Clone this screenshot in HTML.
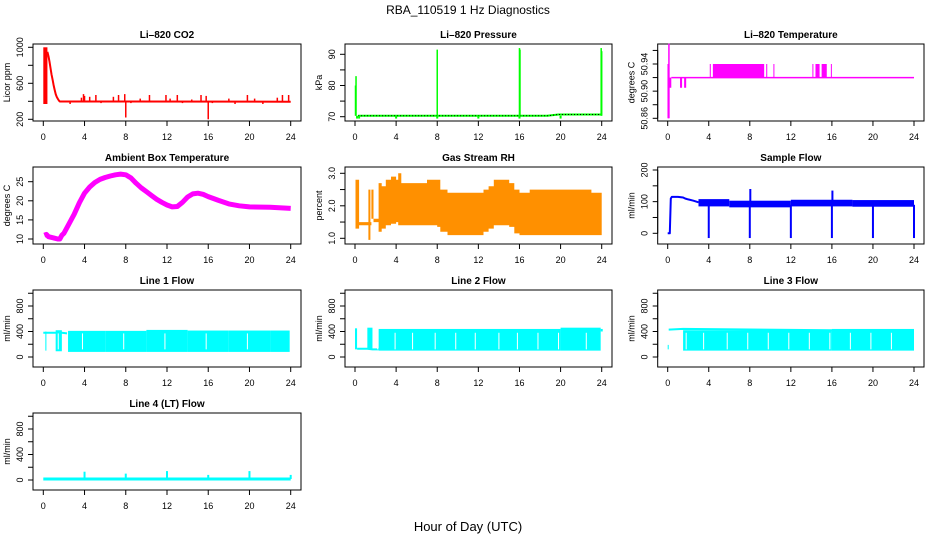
<!DOCTYPE html>
<html><head><meta charset="utf-8"><style>
html,body{margin:0;padding:0;background:#fff}
svg{display:block;font-family:"Liberation Sans",sans-serif}
</style></head><body>
<svg id="chart" width="936" height="540" viewBox="0 0 936 540">
<text x="468" y="14" text-anchor="middle" font-size="12">RBA_110519  1 Hz Diagnostics</text>
<text x="468" y="531" text-anchor="middle" font-size="13">Hour of Day (UTC)</text>
</svg>
<script>
// ---- data ----
const xTickValues = [0,4,8,12,16,20,24];
const co2Ticks = [200,400,600,800,1000];
const co2Labels = [200,600,1000];
const co2BandStart=[0]; const co2BandEnd=[0.4]; const co2BandLow=[370]; const co2BandHigh=[1000];
const co2Hours = [0.4,0.5,0.6,0.7,0.8,0.9,1.0,1.1,1.2,1.3,1.4,1.5,1.6,24];
const co2Values = [950,900,840,770,700,640,580,530,480,450,430,410,398,396];
const co2SpikeHours = [2.6,3.7,3.9,4.0,4.5,5.1,5.6,6.8,7.3,7.9,8.0,8.5,9.4,10.3,11.9,12.3,13.0,13.5,14.4,15.3,15.8,16.0,16.4,18.0,18.6,19.8,20.5,21.3,22.7,23.2,23.8];
const co2SpikeValues = [370,440,480,460,450,470,380,450,470,480,220,380,430,470,470,430,470,380,420,470,460,200,380,430,370,470,430,370,440,470,470];
const presTicks=[70,75,80,85,90]; const presLabels=[70,80,90];
const presHours=[0.3,18.7,19.8,24]; const presValues=[70.3,70.3,70.7,70.7];
const presSpikeHours=[0.05,0.1,8,16,16.05,23.95,24];
const presSpikeValues=[80,83,91.5,92,91.5,92,91];
const presDipHours=[0.2,0.4,4,8,12,16,20];
const presDipValues=[69.4,69.4,69.4,69.4,69.4,69.4,69.4];
const ltTicks=[50.86,50.88,50.90,50.92,50.94,50.96]; const ltLabels=["50.86","50.90","50.94"];
const ltHours=[0.35,24]; const ltValues=[50.92,50.92];
const ltSpikeHours=[0.05,0.12]; const ltSpikeLow=[50.86,50.86]; const ltSpikeHigh=[50.94,50.97];
const ltBandStart=[0.15,1.2,1.6,4.1,4.4,9.6,10.3,14.1,14.4,15.0,15.9];
const ltBandEnd  =[0.35,1.4,1.8,4.2,9.4,9.7,10.35,14.15,14.8,15.5,15.95];
const ltBandLow  =[50.905,50.905,50.905,50.92,50.92,50.92,50.92,50.92,50.92,50.92,50.92];
const ltBandHigh =[50.92,50.92,50.92,50.94,50.94,50.94,50.94,50.94,50.94,50.94,50.94];
const ambTicks=[10,15,20,25]; const ambLabels=[10,15,20,25];
const ambHours=[0.1,0.3,0.5,1.0,1.4,1.6,1.8,2.0,2.5,3.0,3.5,4.0,4.5,5.0,5.5,6.0,6.5,7.0,7.5,8.0,8.5,9.0,9.5,10,10.5,11,11.5,12,12.5,13,13.5,14,14.5,15,15.5,16,16.5,17,18,19,20,22,24];
const ambValues=[11,11.2,10.6,10.3,10,10,11,11.5,14,16.5,19.5,22,23.6,24.8,25.6,26.1,26.5,26.8,27,26.8,26,24.6,23.4,22.4,21.4,20.4,19.6,18.9,18.4,18.5,19.6,21,21.8,22,21.7,21.1,20.6,20.1,19.2,18.7,18.4,18.3,18.0];
const rhTicks=[1.0,1.5,2.0,2.5,3.0]; const rhLabels=["1.0","2.0","3.0"];
const rhHours=[0.05,0.4,1.3,1.5,1.6,1.8,2.3,2.6,3,3.5,4,4.2,4.5,5,6,7,8,8.3,9,10,11,12,12.5,13,13.5,14,14.5,15,15.5,16,17,18,19,20,21,22,23,24];
const rhLow=[1.3,1.4,0.95,1.4,1.6,1.5,1.2,1.3,1.4,1.45,1.5,1.4,1.4,1.4,1.4,1.4,1.35,1.2,1.1,1.1,1.1,1.1,1.2,1.3,1.4,1.4,1.4,1.35,1.15,1.1,1.1,1.1,1.1,1.1,1.1,1.1,1.1,1.1];
const rhHigh=[2.8,1.5,2.5,1.5,2.5,1.6,2.7,2.6,2.8,2.9,2.8,3.0,2.7,2.7,2.7,2.8,2.8,2.5,2.4,2.4,2.4,2.4,2.5,2.6,2.8,2.8,2.8,2.7,2.5,2.4,2.5,2.5,2.5,2.5,2.5,2.5,2.4,2.4];
const sfTicks=[0,50,100,150,200]; const sfLabels=[0,100,200];
const sfHours=[0,0.2,0.3,0.4,1.0,1.5,1.7,2.0,2.5,3.0];
const sfValues=[0,0,110,115,115,113,110,107,103,98];
const sfBandStart=[3,6,12,18]; const sfBandEnd=[6,12,18,24]; const sfBandLow=[85,82,85,84]; const sfBandHigh=[108,103,106,105];
const sfSpikeHours=[4,8,8.05,12,16,16.05,20,24];
const sfSpikeLow=[-15,-15,90,-15,-15,90,-15,-15];
const sfSpikeHigh=[90,90,140,90,90,135,90,90];
const flowTicks=[0,200,400,600,800,1000]; const flowLabels=[0,400,800];
const l1Hours=[0,1.2,1.5,1.8,2.3]; const l1Values=[380,380,380,380,370];
const l1BandStart=[0.2,1.2,2.4,6,10,14,18,22]; const l1BandEnd=[0.3,1.8,6,10,14,18,22,23.9];
const l1BandLow=[100,90,80,80,80,80,80,80]; const l1BandHigh=[400,420,410,410,425,415,415,415];
const l1GapHours=[1.45,3.8,7.8,11.8,15.8,19.8];
const l2Hours=[0.2,1.2,1.7,2.3]; const l2Values=[130,130,120,120];
const l2BandStart=[0,1.2,2.3,20,23.9]; const l2BandEnd=[0.2,1.7,20,23.9,24.1];
const l2BandLow=[120,130,100,100,400]; const l2BandHigh=[450,460,440,460,440];
const l2GapHours=[2.2,3.9,5.6,7.8,9.8,11.7,14,15.8,17.8,19.8,22.5];
const l3Hours=[0.1,1.5,24]; const l3Values=[430,440,410];
const l3BandStart=[0,1.5,16]; const l3BandEnd=[0.1,16,24];
const l3BandLow=[120,100,100]; const l3BandHigh=[190,420,440];
const l3GapHours=[1.8,3.5,5.8,7.8,9.8,11.8,13.8,15.8,17.8,19.8,21.8];
const l4Hours=[0,24]; const l4Values=[15,15];
const l4SpikeHours=[4,8,12,16,20,24]; const l4SpikeValues=[130,100,140,80,140,80];

// ---- layout ----
const colBox=[[33,301,43.3,290.7],[345,612,355,601.7],[657.7,924,667.7,914]];
const NS='http://www.w3.org/2000/svg';
const svg=document.getElementById('chart');
function el(tag,attrs,parent){const e=document.createElementNS(NS,tag);for(const k in attrs)e.setAttribute(k,attrs[k]);(parent||svg).appendChild(e);return e;}

function panel(name,col,row,title,ylab,cal,ticks,labels){
  const [L,R,x0,x24]=colBox[col]; const T=44+123*row, B=T+77;
  const g=el('g',{});
  
  
  const X=h=>x0+h*(x24-x0)/24;
  const Y=v=>T+cal[1]+(v-cal[0])*(cal[3]-cal[1])/(cal[2]-cal[0]);
  const t=el('text',{x:(L+R)/2,y:T-6,'text-anchor':'middle','font-size':10,'font-weight':'bold'},g);t.textContent=title;
  
  
  const box=el('rect',{x:L,y:T,width:R-L,height:B-T,fill:'none',stroke:'#000','stroke-width':1},g);
  
  
  const xa=el('g',{},g);
  
  
  xTickValues.forEach(v=>{el('line',{x1:X(v),x2:X(v),y1:B,y2:B+5,stroke:'#000'},xa);
    const tx=el('text',{x:X(v),y:B+19,'text-anchor':'middle','font-size':9},xa);tx.textContent=v;});
  const ya=el('g',{},g);
  
  
  el('line',{x1:L,x2:L,y1:Y(ticks[0]),y2:Y(ticks[ticks.length-1]),stroke:'#000'},ya);
  ticks.forEach(v=>el('line',{x1:L-5,x2:L,y1:Y(v),y2:Y(v),stroke:'#000'},ya));
  labels.forEach(v=>{const yy=Y(+v);const tx=el('text',{x:L-10,y:yy,'text-anchor':'middle','font-size':9,transform:`rotate(-90 ${L-10} ${yy})`},ya);tx.textContent=v;});
  const yl=el('text',{x:L-23,y:(T+B)/2,'text-anchor':'middle','font-size':9,transform:`rotate(-90 ${L-23} ${(T+B)/2})`},ya);yl.textContent=ylab;
  
  
  const d=el('g',{},g);
  
  
  return {X,Y,g:d};
}
function line(p,xs,ys,color,w,extra){const pts=xs.map((h,i)=>p.X(h).toFixed(1)+','+p.Y(ys[i]).toFixed(1)).join(' ');
  return el('polyline',Object.assign({points:pts,fill:'none',stroke:color,'stroke-width':w,'stroke-linejoin':'round'},extra||{}),p.g);}
function stepBand(p,xs,lo,hi,fill){
  let top=[],bot=[];
  for(let i=0;i<xs.length-1;i++){
    top.push(p.X(xs[i]).toFixed(1)+','+p.Y(hi[i]).toFixed(1));top.push(p.X(xs[i+1]).toFixed(1)+','+p.Y(hi[i]).toFixed(1));
    bot.push(p.X(xs[i]).toFixed(1)+','+p.Y(lo[i]).toFixed(1));bot.push(p.X(xs[i+1]).toFixed(1)+','+p.Y(lo[i]).toFixed(1));
  }
  return el('polygon',{points:top.concat(bot.reverse()).join(' '),fill:fill,stroke:'none'},p.g);}
function spikes(p,xs,lo,hi,color,w){xs.forEach((h,i)=>el('line',{x1:p.X(h),x2:p.X(h),y1:p.Y(lo[i]),y2:p.Y(hi[i]),stroke:color,'stroke-width':w},p.g));}
function rects(p,s,e,lo,hi,fill){s.forEach((h,i)=>el('rect',{x:p.X(h),y:p.Y(hi[i]),width:Math.max(1,p.X(e[i])-p.X(h)),height:p.Y(lo[i])-p.Y(hi[i]),fill:fill},p.g));}

// CO2
let p=panel('co2',0,0,'Li–820 CO2','Licor ppm',[1000,3.3,200,75.3],co2Ticks,co2Labels);
rects(p,co2BandStart,co2BandEnd,co2BandLow,co2BandHigh,'#ff0000');
line(p,co2Hours,co2Values,'#ff0000',2);
spikes(p,co2SpikeHours,co2SpikeHours.map(()=>co2Values[co2Values.length-1]),co2SpikeValues,'#ff0000',1.5);
// Pressure
p=panel('pressure',1,0,'Li–820 Pressure','kPa',[90,10.3,70,72.7],presTicks,presLabels);
line(p,presHours,presValues,'#00ff00',2);
line(p,presHours,presValues,'#000',1,{'stroke-dasharray':'1,2'});
spikes(p,presSpikeHours,presSpikeHours.map(()=>70.3),presSpikeValues,'#00ff00',1.5);
spikes(p,presDipHours,presDipHours.map(()=>70.3),presDipValues,'#00ff00',2);
// Li temp
p=panel('li-temperature',2,0,'Li–820 Temperature','degrees C',[50.94,20,50.86,74.3],ltTicks,ltLabels);
line(p,ltHours,ltValues,'#ff00ff',1.5);
spikes(p,ltSpikeHours,ltSpikeLow,ltSpikeHigh,'#ff00ff',1.5);
rects(p,ltBandStart,ltBandEnd,ltBandLow,ltBandHigh,'#ff00ff');
// Ambient
p=panel('ambient-temperature',0,1,'Ambient Box Temperature','degrees C',[25,14.7,10,72],ambTicks,ambLabels);
line(p,ambHours,ambValues,'#ff00ff',5);
// RH
p=panel('gas-stream-rh',1,1,'Gas Stream RH','percent',[3.0,6.3,1.0,71.3],rhTicks,rhLabels);
stepBand(p,rhHours,rhLow,rhHigh,'#ff9000');
// Sample flow
p=panel('sample-flow',2,1,'Sample Flow','ml/min',[200,3,0,66.3],sfTicks,sfLabels);
line(p,sfHours,sfValues,'#0000ff',2);
rects(p,sfBandStart,sfBandEnd,sfBandLow,sfBandHigh,'#0000ff');
spikes(p,sfSpikeHours,sfSpikeLow,sfSpikeHigh,'#0000ff',2);
// Line flows
const flowCal=[800,16,0,67];
p=panel('line-1-flow',0,2,'Line 1 Flow','ml/min',flowCal,flowTicks,flowLabels);
line(p,l1Hours,l1Values,'#00ffff',2);
rects(p,l1BandStart,l1BandEnd,l1BandLow,l1BandHigh,'#00ffff');
spikes(p,l1GapHours,l1GapHours.map(()=>120),l1GapHours.map(()=>370),'#fff',1);
p=panel('line-2-flow',1,2,'Line 2 Flow','ml/min',flowCal,flowTicks,flowLabels);
line(p,l2Hours,l2Values,'#00ffff',2);
rects(p,l2BandStart,l2BandEnd,l2BandLow,l2BandHigh,'#00ffff');
spikes(p,l2GapHours,l2GapHours.map(()=>120),l2GapHours.map(()=>380),'#fff',1);
p=panel('line-3-flow',2,2,'Line 3 Flow','ml/min',flowCal,flowTicks,flowLabels);
line(p,l3Hours,l3Values,'#00ffff',2);
rects(p,l3BandStart,l3BandEnd,l3BandLow,l3BandHigh,'#00ffff');
spikes(p,l3GapHours,l3GapHours.map(()=>120),l3GapHours.map(()=>380),'#fff',1);
p=panel('line-4-flow',0,3,'Line 4 (LT) Flow','ml/min',flowCal,flowTicks,flowLabels);
line(p,l4Hours,l4Values,'#00ffff',3);
spikes(p,l4SpikeHours,l4SpikeHours.map(()=>15),l4SpikeValues,'#00ffff',2);
</script>
</body></html>
